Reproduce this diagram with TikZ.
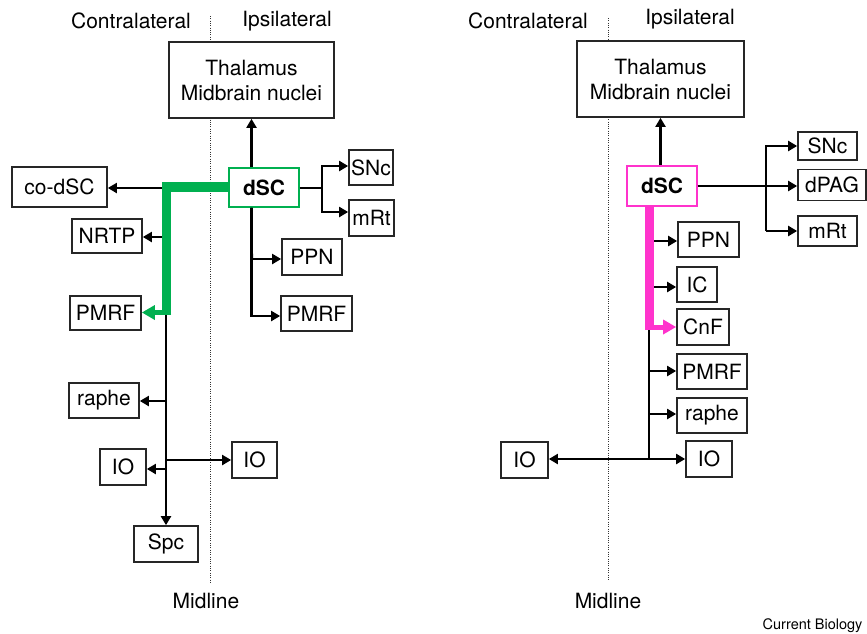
\documentclass[tikz,border=0pt]{standalone}
\usepackage{fontspec}
\setmainfont{TeX Gyre Heros}
\usepackage{xcolor}
\usetikzlibrary{arrows.meta,calc,positioning}
\definecolor{tractgreen}{HTML}{00B050}
\definecolor{tractpink}{HTML}{FF33CC}
\tikzset{
  region/.style={draw=black!85,line width=1.7pt,fill=white,inner sep=0pt,align=center},
  proj/.style={line width=2.1pt,-{Triangle[length=9pt,width=10pt]}},
  stem/.style={line width=2.1pt},
  midline/.style={line width=1pt,black!80,dash pattern=on 1pt off 1.3pt},
}
\begin{document}
\begin{tikzpicture}[x=1pt,y=-1pt]
                        \useasboundingbox (0,0) rectangle (867,633);
                        {\fontsize{21}{25}\selectfont

                        % Drawing midlines
                        \draw [midline] (210,16) -- (210,582);%
                        \draw [midline] (608,18) -- (608,580);%

                        % Marking side labels
                        \node (contraL) at (131,21) {Contralateral};%
                        \node (ipsiL) at (287,21) {Ipsilateral};%
                        \node (midL) at (206,601) {Midline};%
                        \node (contraR) at (528,21) {Contralateral};%
                        \node (ipsiR) at (690,19) {Ipsilateral};%
                        \node (midR) at (608,601) {Midline};%

                        % Left panel: boxes
                        \node [region,minimum width=165,minimum height=76] (thalL) at (251.5,80) {Thalamus\\Midbrain nuclei};%
                        \node [region,draw=tractgreen,line width=1.3pt,minimum width=70,minimum height=39] (dscL) at (264,187.5) {\bfseries dSC};%
                        \node [region,minimum width=95,minimum height=40] (codsc) at (59.5,187) {co-dSC};%
                        \node [region,minimum width=44,minimum height=35] (sncL) at (371,167.5) {SNc};%
                        \node [region,minimum width=45,minimum height=36] (mrtL) at (371.5,218) {mRt};%
                        \node [region,minimum width=70,minimum height=34] (nrtp) at (107,236) {NRTP};%
                        \node [region,minimum width=71,minimum height=34] (pmrfLc) at (105.5,313) {PMRF};%
                        \node [region,minimum width=60,minimum height=36] (ppnL) at (312,257) {PPN};%
                        \node [region,minimum width=71,minimum height=35] (pmrfLi) at (316.5,313.5) {PMRF};%
                        \node [region,minimum width=70,minimum height=35] (rapheL) at (104,400.5) {raphe};%
                        \node [region,minimum width=46,minimum height=36] (ioLc) at (123,467) {IO};%
                        \node [region,minimum width=45,minimum height=36] (ioLi) at (254.5,460) {IO};%
                        \node [region,minimum width=64,minimum height=36] (spc) at (166,544) {Spc};%

                        % Left panel: branch points
                        \coordinate (bL) at (322,188);%
                        \coordinate (vL) at (252,316);%
                        \coordinate (cL) at (166,313);%

                        % Drawing line dSC Thalamus
                        \draw [proj] (thalL.south |- dscL.north) -- (thalL.south);%

                        % Drawing line dSC SNc mRt
                        \draw [stem] (dscL.east |- bL) -- (bL);%
                        \draw [proj] (bL) |- (sncL.west |- 0,166);%
                        \draw [proj] (bL) |- (mrtL.west |- 0,212);%

                        % Drawing line dSC PPN PMRF (ipsilateral)
                        \draw [stem] (thalL.south |- dscL.south) -- (vL |- 0,259);%
                        \draw [proj] (vL |- 0,259) -- (ppnL.west |- 0,259);%
                        \draw [proj] (thalL.south |- dscL.south) |- (pmrfLi.west |- vL);%

                        % Drawing crossed lines
                        \draw [proj] (163,188) -- (codsc.east |- 0,188);%
                        \draw [proj] (163,237) -- (nrtp.east |- 0,237);%
                        \draw [proj] (cL) -- (spc.north);%
                        \draw [proj] (166,401) -- (rapheL.east |- 0,401);%
                        \draw [proj] (166,469) -- (ioLc.east |- 0,469);%
                        \draw [proj] (166,460) -- (ioLi.west |- 0,460);%

                        % Drawing green tract dSC PMRF
                        \draw [tractgreen,line width=10pt] (dscL.west |- 0,187) -- (161.5,187);%
                        \draw [tractgreen,line width=9pt] (166.5,182) -- (166.5,315);%
                        \draw [tractgreen,line width=5pt,-{Triangle[length=13pt,width=14pt]}] (171,312.5) -- (pmrfLc.east |- 0,312.5);%

                        % Right panel: boxes
                        \node [region,minimum width=167,minimum height=76] (thalR) at (660.5,79) {Thalamus\\Midbrain nuclei};%
                        \node [region,draw=tractpink,line width=1.3pt,minimum width=70,minimum height=40] (dscR) at (662,186) {\bfseries dSC};%
                        \node [region,minimum width=59,minimum height=28] (sncR) at (827.5,146) {SNc};%
                        \node [region,minimum width=68,minimum height=31] (dpag) at (832,185) {dPAG};%
                        \node [region,minimum width=59,minimum height=30] (mrtR) at (827.5,231) {mRt};%
                        \node [region,minimum width=61,minimum height=35] (ppnR) at (708.5,239.5) {PPN};%
                        \node [region,minimum width=40,minimum height=35] (ic) at (697,284.5) {IC};%
                        \node [region,minimum width=52,minimum height=36] (cnf) at (703,327) {CnF};%
                        \node [region,minimum width=70,minimum height=35] (pmrfR) at (712,371.5) {PMRF};%
                        \node [region,minimum width=70,minimum height=35] (rapheR) at (712,415.5) {raphe};%
                        \node [region,minimum width=46,minimum height=36] (ioRi) at (709,459) {IO};%
                        \node [region,minimum width=47,minimum height=36] (ioRc) at (524.5,460) {IO};%

                        % Right panel: branch points
                        \coordinate (bR) at (766,186);%
                        \coordinate (vR) at (649,459);%

                        % Drawing line dSC Thalamus
                        \draw [proj] (thalR.south |- dscR.north) -- (thalR.south);%

                        % Drawing line dSC SNc dPAG mRt
                        \draw [proj] (dscR.east |- bR) -- (dpag.west |- bR);%
                        \draw [stem] (766,145) -- (766,231);%
                        \draw [proj] (766,146) -- (sncR.west |- 0,146);%
                        \draw [proj] (766,231) -- (mrtR.west |- 0,231);%

                        % Drawing lines to PPN IC
                        \draw [proj] (653,241) -- (ppnR.west |- 0,241);%
                        \draw [proj] (653,287) -- (ic.west |- 0,287);%

                        % Drawing line down to IO
                        \draw [stem] (649,326) -- (vR);%
                        \draw [proj] (649,371) -- (pmrfR.west |- 0,371);%
                        \draw [proj] (649,414) -- (rapheR.west |- 0,414);%
                        \draw [proj] (vR) -- (ioRi.west |- vR);%
                        \draw [proj] (vR) -- (ioRc.east |- vR);%

                        % Drawing pink tract dSC CnF
                        \draw [tractpink,line width=9pt] (649.5,206) -- (649.5,330);%
                        \draw [tractpink,line width=5pt,-{Triangle[length=13pt,width=14pt]}] (654,327) -- (cnf.west);%
                        }

                        % Marking credit
                        \node [anchor=base east,font=\fontsize{14.5}{17}\selectfont] (credit) at (866,629) {Current Biology};%
                    \end{tikzpicture}
\end{document}
